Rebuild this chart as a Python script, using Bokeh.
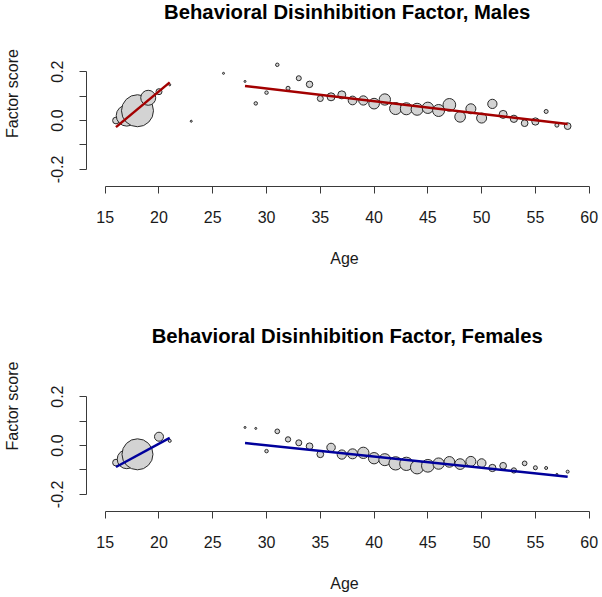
import numpy as np
from bokeh.plotting import figure
from bokeh.layouts import column
from bokeh.models import FixedTicker, PrintfTickFormatter, Range1d, ColumnDataSource, Label
from bokeh.embed import file_html
from bokeh.resources import INLINE

# ---------------- data ----------------
x_ticks = [15, 20, 25, 30, 35, 40, 45, 50, 55, 60]
y_major_ticks = [-0.2, 0.0, 0.2]
y_minor_ticks = [-0.1, 0.1]

male_age = [16, 17, 18, 19, 20, 21, 23, 26, 28, 29, 30, 31, 32, 33, 34, 35, 36, 37, 38, 39,
            40, 41, 42, 43, 44, 45, 46, 47, 48, 49, 50, 51, 52, 53, 54, 55, 56, 57, 58]
male_score = [0.000, 0.020, 0.040, 0.093, 0.118, 0.146, -0.003, 0.193, 0.160, 0.070, 0.114,
              0.228, 0.132, 0.173, 0.148, 0.090, 0.097, 0.105, 0.082, 0.082, 0.069, 0.086,
              0.049, 0.048, 0.046, 0.052, 0.041, 0.064, 0.015, 0.048, 0.010, 0.068, 0.025,
              0.007, -0.011, -0.004, 0.037, -0.019, -0.023]
male_n = [45, 441, 1024, 225, 36, 4, 4, 4, 4, 12, 12, 12, 16, 25, 42, 36, 64, 64, 76, 86,
          114, 128, 144, 144, 144, 128, 144, 161, 114, 100, 100, 86, 64, 53, 45, 53, 16, 16, 45]
male_fit_young_age = [16, 21]
male_fit_young_score = [-0.027, 0.156]
male_fit_adult_age = [28, 58]
male_fit_adult_score = [0.141, -0.014]

female_age = [16, 17, 18, 20, 21, 28, 29, 30, 31, 32, 33, 34, 35, 36, 37, 38, 39, 40, 41, 42,
              43, 44, 45, 46, 47, 48, 49, 50, 51, 52, 53, 54, 55, 56, 57, 58]
female_score = [-0.070, -0.056, -0.036, 0.036, 0.019, 0.074, 0.070, -0.023, 0.058, 0.025,
                0.011, -0.003, -0.036, -0.008, -0.037, -0.034, -0.030, -0.052, -0.058, -0.073,
                -0.075, -0.089, -0.083, -0.074, -0.067, -0.076, -0.065, -0.072, -0.092, -0.083,
                -0.102, -0.073, -0.091, -0.092, -0.118, -0.107]
female_n = [45, 361, 961, 81, 9, 4, 4, 12, 22, 28, 36, 45, 45, 72, 86, 100, 128, 128, 144, 177,
            177, 177, 161, 128, 114, 114, 100, 76, 53, 45, 28, 22, 16, 9, 4, 9]
female_fit_young_age = [16, 21]
female_fit_young_score = [-0.088, 0.031]
female_fit_adult_age = [28, 58]
female_fit_adult_score = [0.010, -0.128]

FONT = "Liberation Sans"
AX = "#3a3a3a"
PX_PER_UNIT = 244.4


def panel(title, ages, scores, n, fits, color, height, frame_h, b_bottom, title_y):
    y_top = -0.27 + frame_h / PX_PER_UNIT
    p = figure(width=602, height=height, output_backend="svg", toolbar_location=None,
               title=None,
               x_range=Range1d(13.26, 61.24), y_range=Range1d(-0.27, y_top),
               min_border_left=86, min_border_right=0,
               min_border_top=0, min_border_bottom=b_bottom)
    p.outline_line_color = None
    p.xgrid.visible = False
    p.ygrid.visible = False
    p.background_fill_color = "white"
    p.border_fill_color = "white"

    p.add_layout(Label(x=37.5, y=title_y, text=title, text_align="center",
                       text_baseline="alphabetic", text_font=FONT, text_font_style="bold",
                       text_font_size="20.3px", text_color="black"))

    src = ColumnDataSource(dict(x=ages, y=scores, d=np.sqrt(np.array(n, dtype=float))))
    p.scatter("x", "y", size="d", source=src, fill_color="#d3d3d3",
              line_color="#2a2a2a", line_width=1)
    for fx, fy in fits:
        p.line(fx, fy, line_color=color, line_width=2.5)

    xa = p.xaxis[0]
    xa.ticker = FixedTicker(ticks=x_ticks)
    xa.bounds = (15, 60)
    xa.axis_label = "Age"
    ya = p.yaxis[0]
    ya.ticker = FixedTicker(ticks=y_major_ticks, minor_ticks=y_minor_ticks)
    ya.bounds = (-0.2, 0.2)
    ya.formatter = PrintfTickFormatter(format="%.1f")
    ya.major_label_orientation = "parallel"
    ya.axis_label = "Factor score"
    ya.minor_tick_line_color = AX
    ya.minor_tick_out = 7
    ya.minor_tick_in = 0
    xa.minor_tick_line_color = None

    for ax in (xa, ya):
        ax.axis_line_color = AX
        ax.major_tick_line_color = AX
        ax.major_tick_out = 7
        ax.major_tick_in = 0
        ax.major_label_text_font = FONT
        ax.major_label_text_font_size = "16px"
        ax.major_label_text_color = "#1a1a1a"
        ax.axis_label_text_font = FONT
        ax.axis_label_text_font_size = "16px"
        ax.axis_label_text_font_style = "normal"
        ax.axis_label_text_color = "#1a1a1a"
    xa.major_label_standoff = 17
    xa.axis_label_standoff = 24
    ya.major_label_standoff = 16
    ya.axis_label_standoff = 28
    return p


p1 = panel("Behavioral Disinhibition Factor, Males", male_age, male_score, male_n,
           [(male_fit_young_age, male_fit_young_score), (male_fit_adult_age, male_fit_adult_score)],
           "#a30000", 300, 186, 114, 0.4453)
p2 = panel("Behavioral Disinhibition Factor, Females", female_age, female_score, female_n,
           [(female_fit_young_age, female_fit_young_score), (female_fit_adult_age, female_fit_adult_score)],
           "#00009c", 297, 211, 86, 0.4473)

layout = column(p1, p2, spacing=0)
open("out.html", "w").write(file_html(layout, INLINE))
